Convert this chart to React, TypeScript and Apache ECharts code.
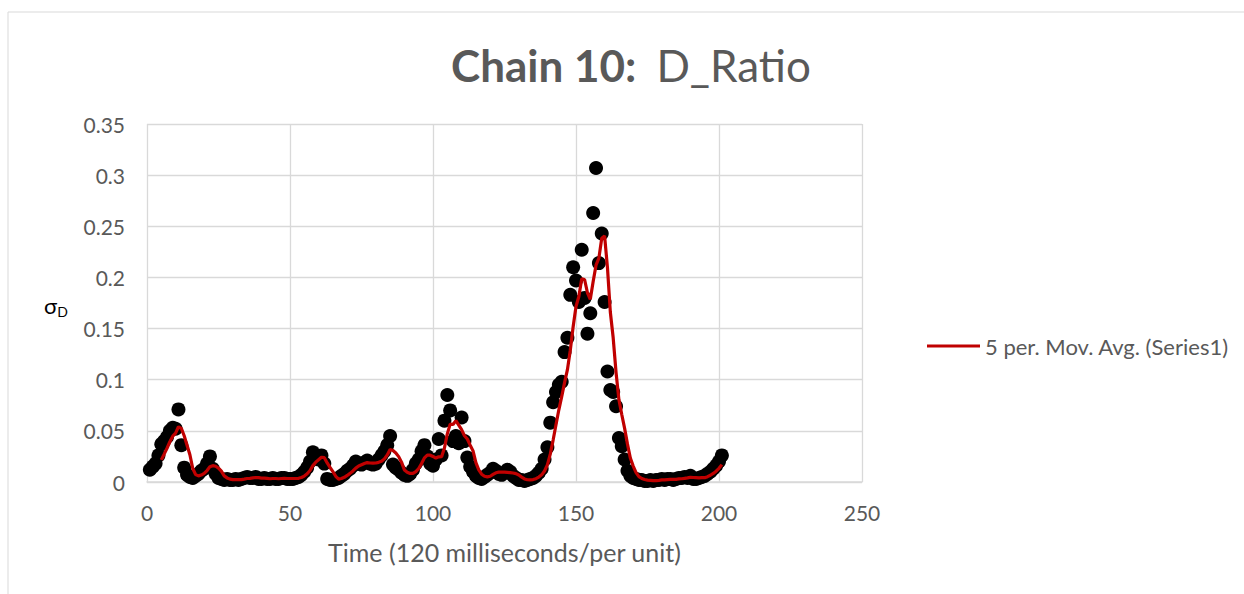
import React, { useEffect, useRef } from "react";
import * as echarts from "echarts";

// σD per time step (step 1..201, 120 ms per unit)
const sigmaD: number[] = [
  0.012, 0.015, 0.018, 0.026, 0.037, 0.040, 0.044, 0.050, 0.053, 0.052,
  0.071, 0.036, 0.014, 0.007, 0.005, 0.004, 0.006, 0.008, 0.011, 0.013,
  0.018, 0.025, 0.013, 0.008, 0.004, 0.003, 0.002, 0.003, 0.002, 0.002,
  0.003, 0.002, 0.003, 0.004, 0.005, 0.004, 0.004, 0.005, 0.003, 0.003,
  0.004, 0.003, 0.003, 0.004, 0.003, 0.003, 0.004, 0.004, 0.003, 0.003,
  0.003, 0.004, 0.005, 0.007, 0.010, 0.014, 0.020, 0.029, 0.024, 0.022,
  0.026, 0.018, 0.003, 0.002, 0.002, 0.003, 0.004, 0.006, 0.008, 0.011,
  0.013, 0.016, 0.020, 0.018, 0.017, 0.019, 0.021, 0.018, 0.017, 0.018,
  0.022, 0.026, 0.030, 0.036, 0.045, 0.017, 0.014, 0.012, 0.009, 0.007,
  0.006, 0.008, 0.012, 0.018, 0.022, 0.030, 0.036, 0.025, 0.018, 0.016,
  0.022, 0.042, 0.026, 0.060, 0.085, 0.070, 0.040, 0.045, 0.038, 0.063,
  0.040, 0.024, 0.015, 0.010, 0.006, 0.004, 0.003, 0.005, 0.007, 0.009,
  0.013, 0.011, 0.008, 0.007, 0.009, 0.012, 0.010, 0.006, 0.004, 0.002,
  0.002, 0.001, 0.002, 0.003, 0.004, 0.006, 0.009, 0.013, 0.022, 0.034,
  0.058, 0.078, 0.088, 0.095, 0.098, 0.127, 0.141, 0.183, 0.210, 0.197,
  0.176, 0.227, 0.180, 0.145, 0.165, 0.263, 0.307, 0.214, 0.243, 0.176,
  0.108, 0.090, 0.088, 0.074, 0.043, 0.035, 0.022, 0.011, 0.006, 0.004,
  0.003, 0.002, 0.002, 0.001, 0.001, 0.002, 0.001, 0.002, 0.002, 0.003,
  0.002, 0.003, 0.003, 0.002, 0.003, 0.004, 0.004, 0.005, 0.004, 0.006,
  0.003, 0.003, 0.004, 0.005, 0.006, 0.008, 0.010, 0.013, 0.016, 0.020,
  0.026,
];

const MA_PERIOD = 5;
const MA_NAME = "5 per. Mov. Avg. (Series1)";

const xAxisMin = 0;
const xAxisMax = 250;
const xAxisStep = 50;
const yAxisMin = 0;
const yAxisMax = 0.35;
const yAxisStep = 0.05;

const TEXT_GREY = "#595959";
const GRID_GREY = "#d9d9d9";
const FONT = "Lato, 'DejaVu Sans', sans-serif";

export default function App() {
  const ref = useRef<HTMLDivElement>(null);

  useEffect(() => {
    if (!ref.current) return;
    const chart = echarts.init(ref.current, undefined, { renderer: "svg" });

    const points = sigmaD.map((v, i) => [i + 1, v]);
    // trailing moving average, plotted at the last point of each window
    const movingAvg: number[][] = [];
    for (let i = MA_PERIOD - 1; i < sigmaD.length; i++) {
      let sum = 0;
      for (let k = i - MA_PERIOD + 1; k <= i; k++) sum += sigmaD[k];
      movingAvg.push([i + 1, sum / MA_PERIOD]);
    }

    chart.setOption({
      animation: false,
      backgroundColor: "#ffffff",
      textStyle: { fontFamily: FONT },
      grid: { left: 147, top: 124, width: 715, height: 358, containLabel: false },
      xAxis: {
        type: "value",
        min: xAxisMin,
        max: xAxisMax,
        interval: xAxisStep,
        name: "Time (120 milliseconds/per unit)",
        nameLocation: "middle",
        nameGap: 57,
        nameTextStyle: { color: TEXT_GREY, fontSize: 25, fontFamily: FONT },
        axisLine: { show: true, lineStyle: { color: GRID_GREY, width: 1.5 } },
        axisTick: { show: false },
        axisLabel: { color: TEXT_GREY, fontSize: 21, margin: 20, fontFamily: FONT },
        splitLine: { show: true, lineStyle: { color: GRID_GREY, width: 1.3 } },
      },
      yAxis: {
        type: "value",
        min: yAxisMin,
        max: yAxisMax,
        interval: yAxisStep,
        axisLine: { show: false },
        axisTick: { show: false },
        axisLabel: {
          color: TEXT_GREY,
          fontSize: 21,
          margin: 22,
          fontFamily: FONT,
          formatter: (v: number) => String(Number(v.toFixed(2))),
        },
        splitLine: { show: true, lineStyle: { color: GRID_GREY, width: 1.3 } },
      },
      legend: {
        show: true,
        left: 922,
        top: 330,
        orient: "vertical",
        itemWidth: 53,
        itemHeight: 3,
        itemGap: 5,
        textStyle: { color: TEXT_GREY, fontSize: 22, fontFamily: FONT },
        data: [{ name: MA_NAME, icon: "rect" }],
      },
      graphic: [
        {
          type: "rect",
          shape: { x: 8, y: 12, width: 1400, height: 1000 },
          style: { fill: "none", stroke: GRID_GREY, lineWidth: 1 },
          silent: true,
        },
        {
          type: "text",
          x: 631,
          y: 65,
          style: {
            text: "{b|Chain 10:}{r|D_Ratio}",
            align: "center",
            verticalAlign: "middle",
            rich: {
              b: { fontSize: 44, fontWeight: "bold", fill: TEXT_GREY, fontFamily: FONT },
              r: {
                fontSize: 44,
                fontWeight: "normal",
                fill: TEXT_GREY,
                fontFamily: FONT,
                padding: [0, 0, 0, 20],
              },
            },
          },
        },
        {
          type: "text",
          x: 44,
          y: 305,
          style: {
            text: "{s|σ}{d|D}",
            verticalAlign: "middle",
            rich: {
              s: { fontSize: 22, fill: "#000000", fontFamily: FONT },
              d: { fontSize: 14, fill: "#000000", fontFamily: FONT, padding: [13, 0, 0, 0] },
            },
          },
        },
      ],
      series: [
        {
          name: "Series1",
          type: "scatter",
          data: points,
          symbol: "circle",
          symbolSize: 14,
          itemStyle: { color: "#000000", opacity: 1 },
          z: 2,
        },
        {
          name: MA_NAME,
          type: "line",
          data: movingAvg,
          showSymbol: false,
          symbol: "none",
          lineStyle: { color: "#c00000", width: 3.2 },
          itemStyle: { color: "#c00000" },
          z: 3,
        },
      ],
    });

    return () => chart.dispose();
  }, []);

  return (
    <div
      ref={ref}
      style={{ position: "absolute", left: 0, top: 0, width: 1244, height: 594 }}
    />
  );
}
